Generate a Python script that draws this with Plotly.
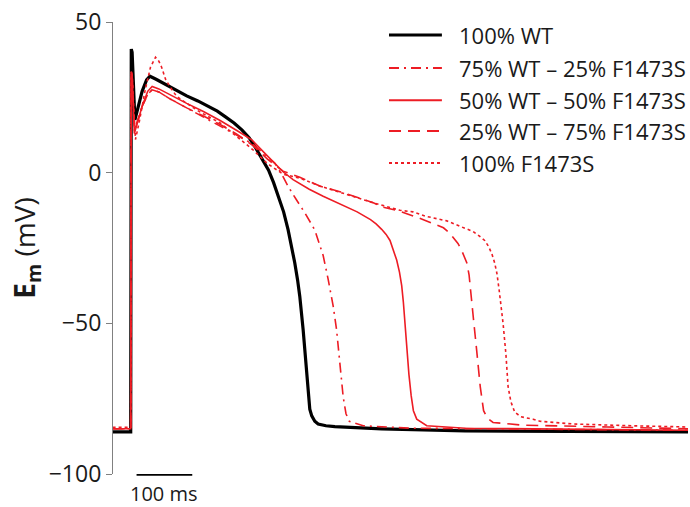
import plotly.graph_objects as go

# Time (ms, upstroke at 0) and membrane potential (mV) for each channel mix
t_wt = [-33, -0.5, 0.5, 2, 7, 12, 20, 28, 34, 45, 60, 79, 100, 120, 139, 155, 169, 185, 199, 212,
        223, 235, 247, 256, 265, 274, 282, 288, 294, 299, 303, 309, 314, 318, 321, 324.5, 330, 336,
        350, 366, 450, 600, 1000]
v_wt = [-86, -86, 41, 40, 17.5, 21, 27, 30.8, 32, 31, 29.5, 27.5, 25.5, 23.8, 22, 20.4, 18.6, 16.5,
        14.2, 11.6, 8.5, 4.8, 0.8, -3.3, -7.8, -13, -18.9, -24, -29.9, -35.5, -41, -52, -63, -74,
        -78.5, -80.7, -82.5, -83.4, -84, -84.3, -85, -85.7, -86]

t_75 = [-33, -0.5, 0.5, 2, 6, 12, 20, 30, 38, 50, 70, 100, 130, 160, 190, 219, 240, 258, 270, 282,
        297, 312, 330, 345, 354, 363, 369, 375, 381, 386, 392, 417, 500, 1000]
v_75 = [-85, -85, 33.5, 32.5, 14, 17.5, 22, 26, 27.5, 26.8, 24.5, 21.5, 18.5, 15.5, 12.5, 9.5, 6,
        3.2, -0.3, -4.5, -9, -13.3, -19, -27.5, -35.4, -44.3, -52, -64, -74.5, -80, -82.5, -84,
        -84.8, -85.5]

t_50 = [-33, -0.5, 0.5, 2, 6, 12, 20, 30, 38, 50, 70, 100, 130, 160, 190, 217, 240, 255, 273, 291,
        320, 345, 375, 406, 430, 440, 450, 458, 465, 471, 477, 482, 486, 489, 492, 495, 499, 503,
        507, 513, 524, 531, 600, 1000]
v_50 = [-85, -85, 33.5, 32.5, 13, 17, 22, 27, 28.6, 27.8, 25.8, 23, 20.3, 17.3, 14, 10.9, 6.5, 3.6,
        0.3, -2.3, -5.5, -7.8, -10.3, -13, -15.6, -17, -18.8, -20.5, -22.5, -25.5, -29, -33, -37.5,
        -43, -51, -59.7, -67, -74, -79, -81.8, -83, -84, -84.8, -85.5]

t_25 = [-33, -0.5, 0.5, 2, 6, 12, 20, 30, 38, 50, 70, 100, 130, 160, 190, 219, 245, 273, 303, 340,
        375, 435, 453, 483, 525, 545, 561, 572, 580, 587, 593, 598, 603, 607, 610, 614, 621, 627, 633,
        640, 650, 704, 855, 1000]
v_25 = [-85, -85, 33.5, 32.5, 14, 17, 22, 26, 27.5, 26.8, 24.5, 21.5, 18.8, 16, 12.8, 9, 4.5, 0.5,
        -1.5, -4.5, -6.3, -10, -11.5, -12.8, -15.6, -17, -18.3, -20, -21.8, -23.5, -25.5, -27.5, -30,
        -34, -39, -47, -59.7, -71, -79, -81.5, -82.9, -83.8, -84.4, -85]

t_0 = [-33, -0.5, 0.5, 2, 8, 15, 25, 35, 44, 50, 55, 62, 70, 82, 100, 125, 160, 190, 219, 245, 273,
       303, 340, 375, 435, 483, 506, 530, 567, 600, 614, 625, 635, 642, 648, 653, 657, 661, 665, 668,
       673, 677, 682, 689, 700, 722, 734, 794, 900, 1000]
v_0 = [-84.5, -84.5, 33, 32, 11, 17, 27, 35, 38.3, 37, 35, 31, 28.5, 25.3, 23, 20, 16.5, 12, 7.6, 3,
       -0.5, -1.8, -4.5, -6.5, -10, -12.5, -13, -14.5, -16, -18.5, -19.5, -21, -22.5, -24.5, -27, -30,
       -33.5, -39, -45, -50, -60, -71, -76, -79.5, -81, -81.8, -82.5, -83.4, -84, -84.4]

labels = ["100% WT", "75% WT \u2013 25% F1473S", "50% WT \u2013 50% F1473S",
          "25% WT \u2013 75% F1473S", "100% F1473S"]
y_ticks = [-100, -50, 0, 50]
scale_bar_ms = 100

RED = "#ED1C24"
FONT = "Open Sans"
series = [(t_wt, v_wt), (t_75, v_75), (t_50, v_50), (t_25, v_25), (t_0, v_0)]
styles = [
    dict(color="black", width=3.2, dash="solid"),
    dict(color=RED, width=1.6, dash="10px,5px,2px,5px"),
    dict(color=RED, width=1.6, dash="solid"),
    dict(color=RED, width=1.6, dash="12px,7px"),
    dict(color=RED, width=1.6, dash="3px,3px"),
]

fig = go.Figure()
for (t, v), st in zip(series, styles):
    fig.add_trace(go.Scatter(x=t, y=v, mode="lines", line=st, showlegend=False,
                             hoverinfo="skip"))

# Legend: line samples and labels in paper coordinates
row_y = [0.971, 0.898, 0.827, 0.759, 0.688]
for lab, st, yy in zip(labels, styles, row_y):
    lw = 3.0 if st["color"] == "black" else 2.0
    fig.add_shape(type="line", xref="paper", yref="paper", x0=0.48, x1=0.572, y0=yy, y1=yy,
                  line=dict(color=st["color"], width=lw, dash=st["dash"]))
    fig.add_annotation(xref="paper", yref="paper", x=0.598, y=yy, text=lab, showarrow=False,
                       xanchor="left", yanchor="middle",
                       font=dict(family=FONT, size=22, color="#1a1a1a"))

# Time scale bar
fig.add_shape(type="line", xref="x", yref="paper", x0=10, x1=10 + scale_bar_ms,
              y0=-0.002, y1=-0.002, line=dict(color="black", width=1.6))
fig.add_annotation(xref="x", yref="paper", x=10 + scale_bar_ms / 2, y=-0.043,
                   text=f"{scale_bar_ms} ms", showarrow=False, xanchor="center", yanchor="middle",
                   font=dict(family=FONT, size=20, color="#1a1a1a"))

fig.update_layout(
    width=690, height=507,
    margin=dict(l=113, r=2, t=22, b=33),
    paper_bgcolor="white", plot_bgcolor="white",
    font=dict(family=FONT, color="#1a1a1a"),
)
fig.update_xaxes(visible=False, range=[-32.3, 1000])
fig.update_yaxes(
    range=[-100, 50], tickvals=y_ticks, showgrid=False, zeroline=False,
    showline=True, linecolor="#808080", linewidth=1.2,
    ticks="outside", ticklen=6, tickcolor="#808080", tickwidth=1.2,
    tickfont=dict(family=FONT, size=23, color="#1a1a1a"),
    title=dict(text="<b>E</b><sub><b>m</b></sub> (mV)", standoff=4,
               font=dict(family=FONT, size=28, color="#1a1a1a")),
)

fig.write_html("out.html")
